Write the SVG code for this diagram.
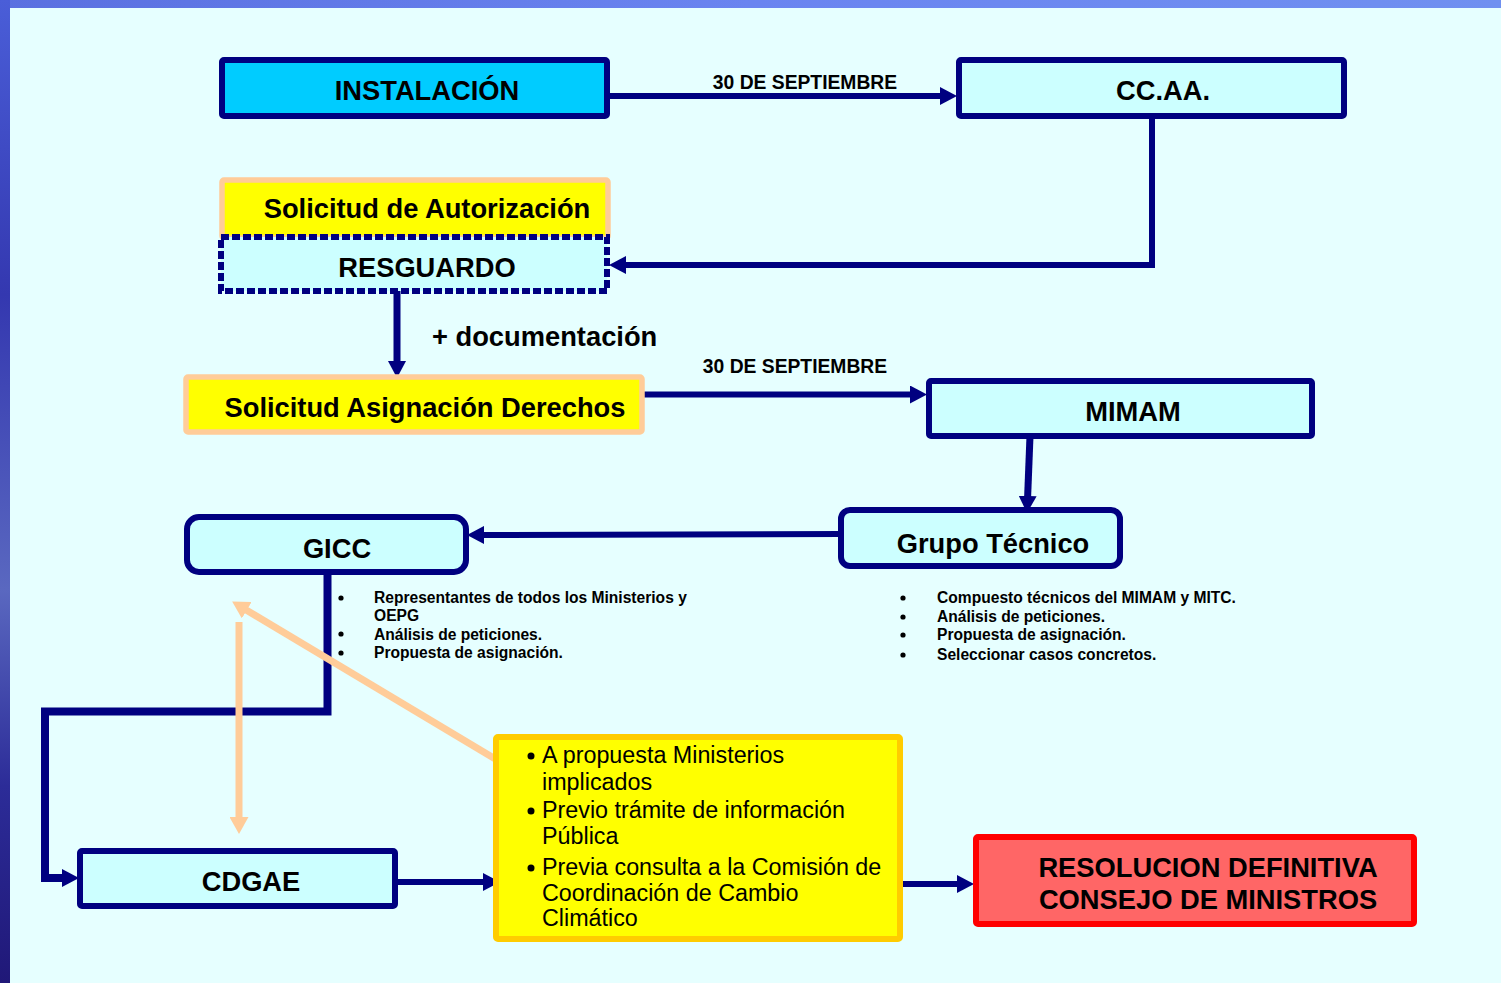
<svg xmlns="http://www.w3.org/2000/svg" width="1501" height="983" viewBox="0 0 1501 983">
<style>
.t{font-family:"Liberation Sans",Arial,sans-serif;font-weight:bold;font-size:27.3px;fill:#000;text-anchor:middle}
.s{font-family:"Liberation Sans",Arial,sans-serif;font-weight:bold;font-size:19.3px;fill:#000;text-anchor:middle}
.b{font-family:"Liberation Sans",Arial,sans-serif;font-weight:bold;font-size:15.6px;fill:#000}
.y{font-family:"Liberation Sans",Arial,sans-serif;font-size:23.3px;fill:#000}
.box{fill:#CCFFFF;stroke:#000080;stroke-width:6}
.c{fill:none;stroke:#000080;stroke-width:6;marker-end:url(#ah)}
.p{fill:none;stroke:#FFCC99;stroke-width:7;marker-end:url(#ap)}
</style>
<defs>
<marker id="ah" markerUnits="userSpaceOnUse" markerWidth="17" markerHeight="18" refX="4" refY="9" orient="auto">
<path d="M0,0 L17,9 L0,18 z" fill="#000080"/>
</marker>
<marker id="ap" markerUnits="userSpaceOnUse" markerWidth="17" markerHeight="19" refX="4" refY="9.5" orient="auto">
<path d="M0,0 L17,9.5 L0,19 z" fill="#FFCC99"/>
</marker>
<linearGradient id="lg" x1="0" y1="0" x2="0" y2="1">
<stop offset="0" stop-color="#4A5ED8"/>
<stop offset="0.3" stop-color="#3438B0"/>
<stop offset="0.6" stop-color="#5A68C0"/>
<stop offset="0.8" stop-color="#2C2C98"/>
<stop offset="1" stop-color="#201878"/>
</linearGradient>
<linearGradient id="tg" x1="0" y1="0" x2="1" y2="0">
<stop offset="0" stop-color="#5A70E0"/>
<stop offset="0.5" stop-color="#6A84F0"/>
<stop offset="1" stop-color="#7090F0"/>
</linearGradient>
</defs>
<rect x="0" y="0" width="1501" height="983" fill="#E6FFFF"/>
<rect x="0" y="0" width="1501" height="8" fill="url(#tg)"/>
<rect x="0" y="0" width="10" height="983" fill="url(#lg)"/>

<g id="connectors">
<path class="c" d="M607,96 H944"/>
<path class="c" d="M1152,116 V265 H622"/>
<path class="c" d="M397,291 V365" style="stroke-width:7"/>
<path class="c" d="M642,394.5 H914"/>
<path class="c" d="M1030,436 L1027.5,500" style="stroke-width:7"/>
<path class="c" d="M841,534 L480,535"/>
<path class="c" d="M327.5,572 V711.5 H45 V878 H66" style="stroke-width:8"/>
<path class="c" d="M395,882 H487"/>
<path class="c" d="M900,884 H961"/>
<path class="p" d="M497,760 L243.3,608.2"/>
<path class="p" d="M239,622 V821"/>
</g>

<g id="lbl-sept1"><text class="s" x="805" y="89">30 DE SEPTIEMBRE</text></g>
<g id="lbl-sept2"><text class="s" x="795" y="373">30 DE SEPTIEMBRE</text></g>
<g id="lbl-doc"><text class="t" x="432" y="346" style="text-anchor:start">+ documentación</text></g>

<g id="instalacion">
<rect x="222" y="60" width="385" height="56" rx="2" fill="#00CCFF" stroke="#000080" stroke-width="6"/>
<text class="t" x="427" y="100">INSTALACIÓN</text>
</g>
<g id="ccaa">
<rect class="box" x="959" y="60" width="385" height="56" rx="2"/>
<text class="t" x="1163" y="100">CC.AA.</text>
</g>
<g id="solicitud-autorizacion">
<rect x="222" y="180" width="386" height="58" rx="2" fill="#FFFF00" stroke="#FFCC99" stroke-width="5.5"/>
<text class="t" x="427" y="218">Solicitud de Autorización</text>
</g>
<g id="resguardo">
<rect x="221" y="237" width="386" height="54" fill="#CCFFFF" stroke="#000080" stroke-width="6" stroke-dasharray="8 3"/>
<text class="t" x="427" y="277">RESGUARDO</text>
</g>
<g id="solicitud-asignacion">
<rect x="186" y="377" width="456" height="55" rx="2" fill="#FFFF00" stroke="#FFCC99" stroke-width="5.5"/>
<text class="t" x="425" y="417">Solicitud Asignación Derechos</text>
</g>
<g id="mimam">
<rect class="box" x="929" y="381" width="383" height="55" rx="2"/>
<text class="t" x="1133" y="421">MIMAM</text>
</g>
<g id="grupo-tecnico">
<rect class="box" x="841" y="510" width="279" height="56" rx="9"/>
<text class="t" x="993" y="553">Grupo Técnico</text>
</g>
<g id="gicc">
<rect class="box" x="187" y="517" width="279" height="55" rx="12"/>
<text class="t" x="337" y="558">GICC</text>
</g>
<g id="gicc-notes">
<circle cx="341" cy="598" r="2.6"/>
<circle cx="341" cy="634" r="2.6"/>
<circle cx="341" cy="653" r="2.6"/>
<text class="b" x="374" y="603">Representantes de todos los Ministerios y</text>
<text class="b" x="374" y="621">OEPG</text>
<text class="b" x="374" y="640">Análisis de peticiones.</text>
<text class="b" x="374" y="658">Propuesta de asignación.</text>
</g>
<g id="grupo-notes">
<circle cx="903" cy="598" r="2.6"/>
<circle cx="903" cy="617" r="2.6"/>
<circle cx="903" cy="635" r="2.6"/>
<circle cx="903" cy="655" r="2.6"/>
<text class="b" x="937" y="603">Compuesto técnicos del MIMAM y MITC.</text>
<text class="b" x="937" y="622">Análisis de peticiones.</text>
<text class="b" x="937" y="640">Propuesta de asignación.</text>
<text class="b" x="937" y="660">Seleccionar casos concretos.</text>
</g>
<g id="cdgae">
<rect class="box" x="80" y="851" width="315" height="55" rx="2"/>
<text class="t" x="251" y="891">CDGAE</text>
</g>
<g id="requisitos">
<rect x="496" y="737" width="404" height="202" rx="2" fill="#FFFF00" stroke="#FFCC00" stroke-width="6"/>
<circle cx="531" cy="756" r="3.5"/>
<circle cx="531" cy="811" r="3.5"/>
<circle cx="531" cy="868" r="3.5"/>
<text class="y" x="542" y="763">A propuesta Ministerios</text>
<text class="y" x="542" y="790">implicados</text>
<text class="y" x="542" y="818">Previo trámite de información</text>
<text class="y" x="542" y="844">Pública</text>
<text class="y" x="542" y="875">Previa consulta a la Comisión de</text>
<text class="y" x="542" y="901">Coordinación de Cambio</text>
<text class="y" x="542" y="926">Climático</text>
</g>
<g id="resolucion">
<rect x="976" y="837" width="438" height="87" rx="2" fill="#FF6666" stroke="#FF0000" stroke-width="6"/>
<text class="t" x="1208" y="877">RESOLUCION DEFINITIVA</text>
<text class="t" x="1208" y="909">CONSEJO DE MINISTROS</text>
</g>
</svg>
